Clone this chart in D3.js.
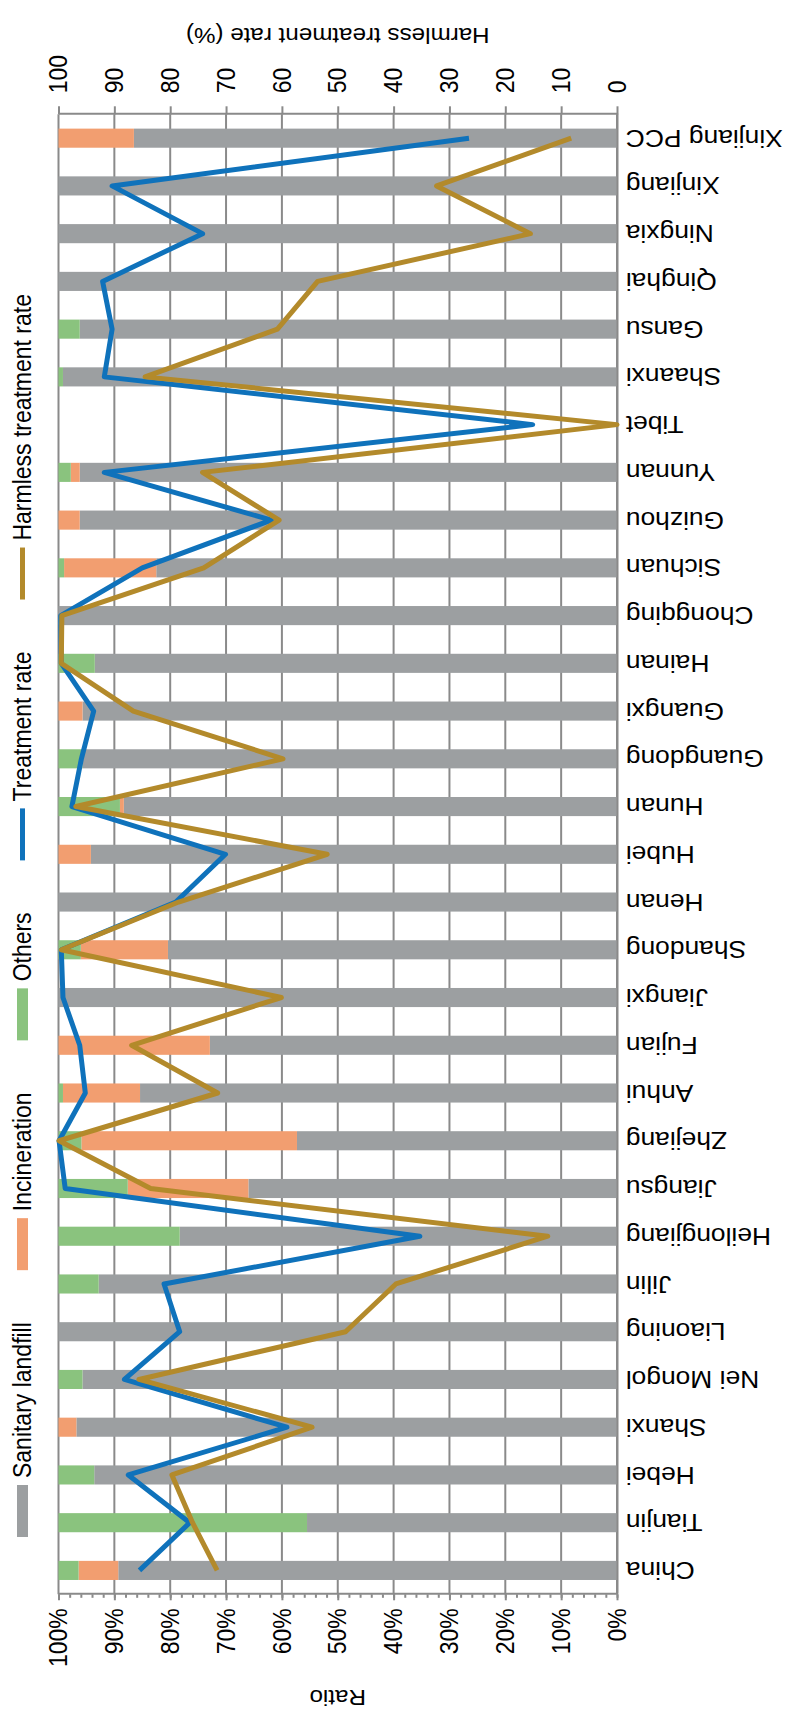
<!DOCTYPE html>
<html>
<head>
<meta charset="utf-8">
<script src="https://cdn.jsdelivr.net/npm/d3@7"></script>
<style>
  body { margin: 0; background: #fff; }
  svg { display: block; font-family: "Liberation Sans", Arial, sans-serif; }
</style>
</head>
<body>
<script>
// data, read left to right in the unrotated chart (China first)
var provinces = ["China", "Tianjin", "Hebei", "Shanxi", "Nei Mongol", "Liaoning", "Jilin",
  "Heilongjiang", "Jiangsu", "Zhejiang", "Anhui", "Fujian", "Jiangxi", "Shandong", "Henan",
  "Hubei", "Hunan", "Guangdong", "Guangxi", "Hainan", "Chongqing", "Sichuan", "Guizhou",
  "Yunnan", "Tibet", "Shaanxi", "Gansu", "Qinghai", "Ningxia", "Xinjiang", "Xinjiang PCC"];

// share of treatment (%)
var landfill =     [89.3, 55.5, 93.6, 96.8, 95.7, 100, 92.8, 78.3, 66.0, 57.3, 85.4, 72.9, 100, 80.4, 100,
                    94.2, 88.3, 95.7, 95.7, 93.5, 100, 82.5, 96.2, 96.2, 0, 99.2, 96.2, 100, 100, 100, 86.5];
var incineration = [7.1, 0, 0, 3.2, 0, 0, 0, 0, 21.6, 38.6, 13.8, 27.1, 0, 15.6, 0,
                    5.8, 0.7, 0, 4.3, 0, 0, 16.5, 3.8, 1.6, 0, 0, 0, 0, 0, 0, 13.5];
var others =       [3.6, 44.5, 6.4, 0, 4.3, 0, 7.2, 21.7, 12.4, 4.1, 0.8, 0, 0, 4.0, 0,
                    0, 11.0, 4.3, 0, 6.5, 0, 1.0, 0, 2.2, 0, 0.8, 3.8, 0, 0, 0, 0];

// rates (%)
var treatmentRate = [85.5, 76.5, 87.5, 59.1, 88.2, 78.3, 81.1, 35.3, 98.8, 99.9, 95.2, 96.2, 99.2, 99.5, 79.0,
                     70.1, 97.6, 95.9, 93.7, 99.5, 99.6, 85.0, 61.9, 91.8, 15.1, 91.8, 90.4, 92.1, 74.2, 90.4, 26.5];
var harmlessRate =  [71.6, 76.0, 79.7, 54.6, 85.6, 48.6, 39.6, 12.4, 83.5, 99.9, 71.5, 86.9, 60.1, 99.5, 78.5,
                     51.9, 96.9, 59.8, 86.6, 99.5, 99.4, 74.0, 60.5, 74.2, 0, 84.5, 60.8, 53.6, 15.5, 32.3, 8.2];

var ratioTicks = [0, 0.1, 0.2, 0.3, 0.4, 0.5, 0.6, 0.7, 0.8, 0.9, 1];
var rateTicks = [0, 10, 20, 30, 40, 50, 60, 70, 80, 90, 100];

var barNames = ["Sanitary landfill", "Incineration", "Others"];
var lineNames = ["Treatment rate", "Harmless treatment rate"];

var barColors = ["#9c9fa1", "#f29e70", "#8ac37e"];
var lineColors = ["#0f72bb", "#b38a2b"];
var gridColor = "#8a8a8a";

// the chart is built as an ordinary column chart, then turned 90deg counter-clockwise.
// text in the picture is a bit wider across the page than tall, hence the 1.1 stretch.
var W = 1711, H = 785, stretch = "scale(1,1.1)";
var plot = {left: 116.7, right: 1596.7, top: 58.5, bottom: 617};

var svg = d3.select("body").append("svg")
    .attr("width", H)
    .attr("height", W);

var g = svg.append("g")
    .attr("transform", "translate(0," + W + ") rotate(-90)");

var x = d3.scaleBand()
    .domain(provinces)
    .range([plot.left, plot.right])
    .paddingInner(0.6)
    .paddingOuter(0.3);

var y = d3.scaleLinear().domain([0, 1]).range([plot.bottom, plot.top]);
var y2 = d3.scaleLinear().domain([0, 100]).range([plot.bottom, plot.top]);

// grid
g.append("g").selectAll("line")
    .data(ratioTicks)
  .enter().append("line")
    .attr("x1", plot.left).attr("x2", plot.right)
    .attr("y1", function(d) { return y(d); })
    .attr("y2", function(d) { return y(d); })
    .attr("stroke", gridColor)
    .attr("stroke-width", 2);

// stacked bars
var rows = provinces.map(function(p, i) {
  return {name: p, landfill: landfill[i] / 100, incineration: incineration[i] / 100, others: others[i] / 100};
});
var stack = d3.stack().keys(["landfill", "incineration", "others"]);

g.append("g").selectAll("g")
    .data(stack(rows))
  .enter().append("g")
    .attr("fill", function(d, i) { return barColors[i]; })
  .selectAll("rect")
    .data(function(d) { return d; })
  .enter().append("rect")
    .attr("x", function(d) { return x(d.data.name); })
    .attr("width", x.bandwidth())
    .attr("y", function(d) { return y(d[1]); })
    .attr("height", function(d) { return y(d[0]) - y(d[1]); });

// axes
function styleAxis(sel) {
  sel.selectAll("path, line").attr("stroke", gridColor).attr("stroke-width", 2);
  sel.selectAll("text").attr("fill", "#000").attr("transform", stretch)
    .style("font-size", "23px").style("font-family", null);
}

g.append("g")
    .attr("transform", "translate(" + plot.left + ",0)")
    .call(d3.axisLeft(y).tickValues(d3.range(0, 1.001, 0.02)).tickSize(3.5).tickFormat(""))
    .call(styleAxis)
    .call(function(a) { a.select(".domain").remove(); });

g.append("g")
    .attr("transform", "translate(" + plot.left + ",0)")
    .call(d3.axisLeft(y).tickValues(ratioTicks).tickSize(6).tickSizeOuter(0).tickPadding(8)
      .tickFormat(function(d) { return Math.round(d * 100) + "%"; }))
    .call(styleAxis);

g.append("g")
    .attr("transform", "translate(" + plot.right + ",0)")
    .call(d3.axisRight(y2).tickValues(rateTicks).tickSize(8).tickSizeOuter(0).tickPadding(13))
    .call(styleAxis);

var xAxis = g.append("g")
    .attr("transform", "translate(0," + plot.bottom + ")")
    .call(d3.axisBottom(x).tickSize(0).tickSizeOuter(0))
    .call(styleAxis);
xAxis.selectAll("text")
    .attr("transform", stretch + " rotate(-90)")
    .attr("x", -8).attr("y", 0).attr("dy", "0.35em")
    .style("text-anchor", "end")
    .style("font-size", "24px");

// lines
var lineData = [treatmentRate, harmlessRate];
var line = d3.line()
    .x(function(d, i) { return x(provinces[i]) + x.bandwidth() / 2; })
    .y(function(d) { return y2(d); });

g.append("g").selectAll("path")
    .data(lineData)
  .enter().append("path")
    .attr("d", line)
    .attr("fill", "none")
    .attr("stroke", function(d, i) { return lineColors[i]; })
    .attr("stroke-width", 5)
    .attr("stroke-linejoin", "round");

// axis titles
var midY = (plot.top + plot.bottom) / 2;
g.append("text")
    .attr("transform", "translate(21," + midY + ") " + stretch + " rotate(-90)")
    .attr("text-anchor", "middle")
    .style("font-size", "22px")
    .text("Ratio");

g.append("text")
    .attr("transform", "translate(1683.5," + midY + ") " + stretch + " rotate(-90)")
    .attr("text-anchor", "middle")
    .style("font-size", "22px")
    .text("Harmless treatment rate (%)");

// legend, laid out one item after another
var legendItems = barNames.map(function(n, i) { return {name: n, color: barColors[i], type: "rect"}; })
  .concat(lineNames.map(function(n, i) { return {name: n, color: lineColors[i], type: "line"}; }));

var legend = g.append("g").attr("transform", "translate(174,22.5)");
var cursor = 0;
legendItems.forEach(function(d) {
  var item = legend.append("g").attr("transform", "translate(" + cursor + ",0)");
  if (d.type === "rect") {
    item.append("rect").attr("x", 0).attr("y", -5.5).attr("width", 52).attr("height", 11).attr("fill", d.color);
  } else {
    item.append("line").attr("x1", 0).attr("x2", 52).attr("y1", 0).attr("y2", 0)
      .attr("stroke", d.color).attr("stroke-width", 5);
  }
  var t = item.append("text")
      .attr("x", 59).attr("dy", "0.35em")
      .attr("transform", stretch)
      .style("font-size", "23px")
      .text(d.name);
  cursor += 59 + t.node().getComputedTextLength() + 52;
});
</script>
</body>
</html>
